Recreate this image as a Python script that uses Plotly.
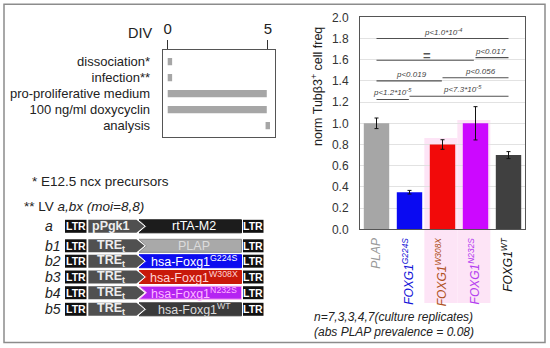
import plotly.graph_objects as go

W, H = 550, 348
FONT = "Liberation Sans, Arial, sans-serif"

# ---------------- bar chart data ----------------
categories = ["PLAP", "FOXG1<sup>G224S</sup>", "FOXG1<sup>W308X</sup>",
              "FOXG1<sup>N232S</sup>", "FOXG1<sup>WT</sup>"]
values = [1.00, 0.35, 0.80, 1.00, 0.70]
errors = [0.05, 0.017, 0.045, 0.157, 0.033]
bar_colors = ["#a6a6a6", "#0a0af2", "#f20a0a", "#cc08ff", "#404040"]
label_colors = ["#9a9a9a", "#1414d8", "#b0521e", "#b440f0", "#111111"]
y_ticks = [0.0, 0.2, 0.4, 0.6, 0.8, 1.0, 1.2, 1.4, 1.6, 1.8, 2.0]

# significance brackets (category index from/to, height)
bracket_from = [0, 0, 3.0, 0, 2.0, 0, 1.0]
bracket_to = [4, 2.95, 4, 1.98, 4, 0.98, 4]
bracket_y = [1.80, 1.595, 1.62, 1.40, 1.43, 1.225, 1.255]
p_texts = ["p<1.0*10<sup>-4</sup>", "p<0.017", "p<0.019", "p<0.056",
           "p<1.2*10<sup>-5</sup>", "p<7.3*10<sup>-5</sup>"]
p_x = [2.0, 3.44, 1.05, 3.14, 0.49, 2.62]
p_y = [1.80, 1.62, 1.40, 1.43, 1.225, 1.255]

# ---------------- timeline data ----------------
steps = ["dissociation*", "infection**", "pro-proliferative medium",
         "100 ng/ml doxycyclin", "analysis"]
step_start = [0, 0, 0, 0, 4.88]
step_end = [0.22, 0.22, 4.94, 4.94, 5.10]
div_ticks = [0, 5]

# ---------------- constructs ----------------
construct_ids = ["a", "b1", "b2", "b3", "b4", "b5"]
promoters = ["pPgk1", "TRE<sub>t</sub>", "TRE<sub>t</sub>", "TRE<sub>t</sub>",
             "TRE<sub>t</sub>", "TRE<sub>t</sub>"]
genes = ["rtTA-M2", "PLAP", "hsa-Foxg1<sup>G224S</sup>", "hsa-Foxg1<sup>W308X</sup>",
         "hsa-Foxg1<sup>N232S</sup>", "hsa-Foxg1<sup>WT</sup>"]
gene_fill = ["#1c1c1c", "#a9a9a9", "#0c0cf0", "#c8190a", "#b424f2", "#3a3a3a"]
gene_text = ["#ffffff", "#dcdcdc", "#ffffff", "#ffd4d4", "#ffb8ff", "#dddddd"]

# ---------------- figure ----------------
fig = go.Figure()
nx = list(range(len(categories)))
ny = list(range(len(steps)))

def px_x(v):
    return v / W

def px_y(v):
    return 1 - v / H

# bar chart
fig.add_trace(go.Bar(
    x=nx, y=values, width=0.77, marker=dict(color=bar_colors, line=dict(width=0)),
    error_y=dict(type="data", array=errors, color="#111111", thickness=1, width=2),
    xaxis="x", yaxis="y", showlegend=False, hoverinfo="skip"))

for x0, x1, yv in zip(bracket_from, bracket_to, bracket_y):
    fig.add_trace(go.Scatter(x=[x0, x1], y=[yv, yv], mode="lines",
                             line=dict(color="#505050", width=1.1),
                             xaxis="x", yaxis="y", showlegend=False, hoverinfo="skip"))

# timeline
fig.add_trace(go.Bar(
    y=ny, x=[e - s for s, e in zip(step_start, step_end)], base=step_start,
    orientation="h", width=0.45, marker=dict(color="#a6a6a6", line=dict(width=0)),
    xaxis="x2", yaxis="y2", showlegend=False, hoverinfo="skip"))

# pixel overlay axis (invisible)
fig.add_trace(go.Scatter(x=[0], y=[0], mode="markers", marker=dict(opacity=0),
                         xaxis="x3", yaxis="y3", showlegend=False, hoverinfo="skip"))

annotations = []
shapes = []

# outer frame
shapes.append(dict(type="rect", xref="x3", yref="y3", x0=4, x1=545, y0=4.3, y1=342.5,
                   line=dict(color="#8c8c8c", width=1.5), layer="below"))

# pink halos behind W308X and N232S
for idx, top in [(2, 138), (3, 120)]:
    shapes.append(dict(type="rect", xref="x", yref="y3", x0=idx - 0.55, x1=idx + 0.45,
                       y0=top, y1=303, fillcolor="#fde4f6", line=dict(width=0),
                       layer="below"))

# p-value labels
for t, xv, yv in zip(p_texts, p_x, p_y):
    annotations.append(dict(x=xv, y=yv, xref="x", yref="y", text=f"<i>{t}</i>",
                            showarrow=False, yanchor="bottom", yshift=0,
                            font=dict(size=8, color="#444444", family=FONT)))
annotations.append(dict(x=1.52, y=1.595, xref="x", yref="y", text="<b>=</b>",
                        showarrow=False, yanchor="middle", yshift=5,
                        font=dict(size=13, color="#555555", family=FONT)))

# y axis title
annotations.append(dict(x=317, y=87, xref="x3", yref="y3",
                        text="norm Tubβ3<sup>+</sup> cell freq", textangle=-90,
                        showarrow=False, font=dict(size=12.5, color="#222222", family=FONT)))

# bottom notes
annotations.append(dict(x=312, y=316.5, xref="x3", yref="y3", xanchor="left",
                        text="<i>n=7,3,3,4,7(culture replicates)</i>", showarrow=False,
                        font=dict(size=12, color="#222222", family=FONT)))
annotations.append(dict(x=312, y=331.5, xref="x3", yref="y3", xanchor="left",
                        text="<i>(abs PLAP prevalence = 0.08)</i>", showarrow=False,
                        font=dict(size=12, color="#222222", family=FONT)))

# DIV label
annotations.append(dict(x=155, y=33, xref="x3", yref="y3", xanchor="right",
                        text="DIV", showarrow=False,
                        font=dict(size=14.5, color="#222222", family=FONT)))

# footnotes
annotations.append(dict(x=30, y=181.7, xref="x3", yref="y3", xanchor="left",
                        text="* E12.5 ncx precursors", showarrow=False,
                        font=dict(size=13.5, color="#222222", family=FONT)))
annotations.append(dict(x=22, y=206.7, xref="x3", yref="y3", xanchor="left",
                        text="** LV <i>a,bx (moi=8,8)</i>", showarrow=False,
                        font=dict(size=13.5, color="#222222", family=FONT)))

# construct rows
row_y = [226.3, 245.8, 261.2, 277.0, 292.7, 309.3]
hh = 6.5
for cid, prom, gene, gf, gt, yc in zip(construct_ids, promoters, genes,
                                       gene_fill, gene_text, row_y):
    t, b = yc - hh, yc + hh
    shapes.append(dict(type="rect", xref="x3", yref="y3", x0=65, x1=86.5, y0=t, y1=b,
                       fillcolor="#111111", line=dict(width=0)))
    shapes.append(dict(type="path", xref="x3", yref="y3",
                       path=f"M 88.3,{t} L 136.5,{t} L 144.5,{yc} L 136.5,{b} L 88.3,{b} Z",
                       fillcolor="#505050", line=dict(width=0)))
    line_c = "#8a8a8a" if cid == "b1" else ("#ffb0ee" if cid == "b4" else gf)
    shapes.append(dict(type="path", xref="x3", yref="y3",
                       path=f"M 139,{t} L 241.5,{t} L 241.5,{b} L 139,{b} L 146.5,{yc} Z",
                       fillcolor=gf, line=dict(width=1, color=line_c)))
    shapes.append(dict(type="rect", xref="x3", yref="y3", x0=243, x1=263.5, y0=t, y1=b,
                       fillcolor="#111111", line=dict(width=0)))
    for xc in (75.8, 253.2):
        annotations.append(dict(x=xc, y=yc, xref="x3", yref="y3", text="<b>LTR</b>",
                                showarrow=False,
                                font=dict(size=10.5, color="#ffffff", family=FONT)))
    annotations.append(dict(x=111, y=yc, xref="x3", yref="y3", text=f"<b>{prom}</b>",
                            showarrow=False,
                            font=dict(size=12.5, color="#eeeeee", family=FONT)))
    annotations.append(dict(x=194, y=yc, xref="x3", yref="y3", text=gene,
                            showarrow=False,
                            font=dict(size=12.5, color=gt, family=FONT)))
    annotations.append(dict(x=43, y=yc, xref="x3", yref="y3", xanchor="left",
                            text=f"<i>{cid}</i>", showarrow=False,
                            font=dict(size=14, color="#222222", family=FONT)))

ticktext = [f"<span style='color:{c}'><i>{t}</i></span>"
            for t, c in zip(categories, label_colors)]

fig.update_layout(
    template="none",
    width=W, height=H, margin=dict(l=0, r=0, t=0, b=0, pad=0),
    paper_bgcolor="white", plot_bgcolor="rgba(0,0,0,0)",
    font=dict(family=FONT, color="#222222"),
    showlegend=False,
    xaxis=dict(domain=[px_x(360), px_x(525)], range=[-0.5, 4.5], anchor="y",
               tickmode="array", tickvals=nx, ticktext=ticktext, tickangle=-90,
               tickfont=dict(size=12, family=FONT), ticks="", showgrid=False,
               showline=True, mirror=True, linecolor="#555555", linewidth=1,
               zeroline=False, ticklabelstandoff=3, automargin=False, fixedrange=True),
    yaxis=dict(domain=[px_y(229.3), px_y(17.3)], range=[0, 2.0], anchor="x",
               tickmode="array", tickvals=y_ticks,
               ticktext=[f"{v:.1f}" for v in y_ticks],
               tickfont=dict(size=12, color="#333333", family=FONT),
               ticks="", showgrid=True, gridcolor="#e2e2e2", gridwidth=1,
               showline=True, mirror=True, linecolor="#555555", linewidth=1,
               zeroline=False, ticklabelstandoff=8, automargin=False, fixedrange=True),
    xaxis2=dict(domain=[px_x(162.7), px_x(275)], range=[-0.25, 5.35], anchor="y2",
                side="top", tickmode="array", tickvals=div_ticks,
                ticktext=[str(v) for v in div_ticks], ticks="outside", ticklen=9,
                tickcolor="#333333", tickwidth=1.2,
                tickfont=dict(size=15, color="#222222", family=FONT),
                showgrid=False, showline=True, mirror=True, linecolor="#555555",
                linewidth=1, zeroline=False, automargin=False, fixedrange=True),
    yaxis2=dict(domain=[px_y(136.7), px_y(50)], range=[4.69, -0.73], anchor="x2",
                tickmode="array", tickvals=ny, ticktext=steps,
                ticks="", tickfont=dict(size=13, color="#222222", family=FONT),
                ticklabelstandoff=9, showgrid=False, showline=True, mirror=True,
                linecolor="#555555", linewidth=1, zeroline=False, automargin=False,
                fixedrange=True),
    xaxis3=dict(domain=[0, 1], range=[0, W], anchor="y3", visible=False,
                automargin=False, fixedrange=True),
    yaxis3=dict(domain=[0, 1], range=[H, 0], anchor="x3", visible=False,
                automargin=False, fixedrange=True),
    shapes=shapes,
    annotations=annotations,
)

fig.write_html("out.html", config={"displayModeBar": False},
               post_script="document.body.style.margin='0px';")
